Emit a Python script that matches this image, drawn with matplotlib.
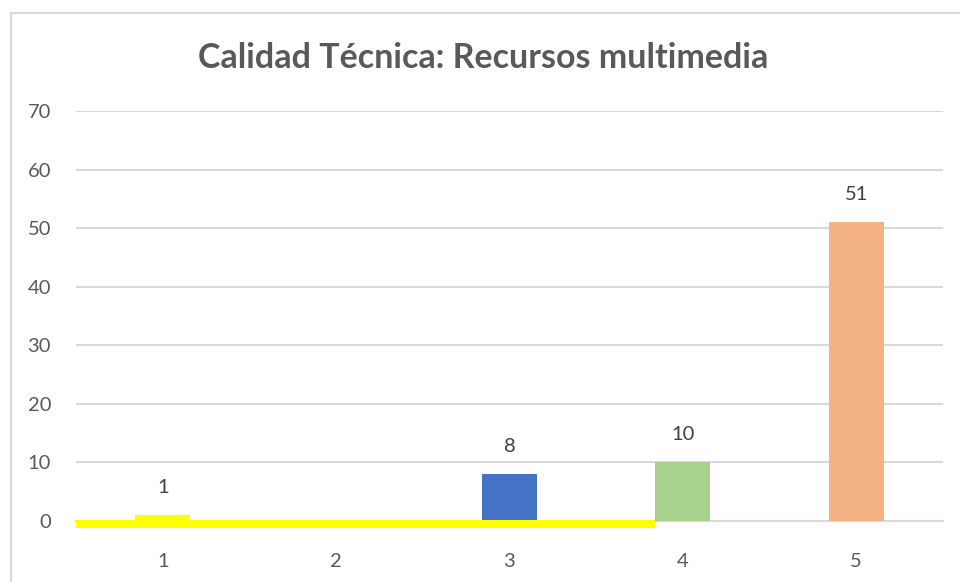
import matplotlib
matplotlib.use("Agg")
import matplotlib.pyplot as plt
from matplotlib.patches import Rectangle

plt.rcParams['font.family'] = ['Lato', 'DejaVu Sans']

categorias = ['1', '2', '3', '4', '5']
valores = [1, 0, 8, 10, 51]
colores = ['#FFFF00', '#FFFFFF', '#4472C4', '#A9D18E', '#F4B183']
etiquetas = ['1', '', '8', '10', '51']
yticks = [0, 10, 20, 30, 40, 50, 60, 70]

# franja amarilla de resaltado sobre el eje
resaltado_fin = 3.84

fig = plt.figure(figsize=(9.6, 5.82), dpi=100)
ax = fig.add_axes([0.0792, 0.1048, 0.903, 0.7046])

x = range(1, len(categorias) + 1)
bars = ax.bar(x, valores, width=0.317, color=colores, zorder=3)

ax.hlines(-0.55, 0.5, resaltado_fin, color='#FFFF00', lw=5.8,
          zorder=4, clip_on=False)

for b, lab in zip(bars, etiquetas):
    if lab:
        ax.annotate(lab, (b.get_x() + b.get_width() / 2, b.get_height()),
                    xytext=(0, 20), textcoords='offset points',
                    ha='center', va='center', fontsize=14.5, color='#404040')

ax.set_xlim(0.5, 5.5)
ax.set_ylim(0, 70)
ax.set_xticks(list(x))
ax.set_xticklabels(categorias)
ax.set_yticks(yticks)
ax.tick_params(axis='both', length=0, labelsize=14.5, labelcolor='#595959')
ax.tick_params(axis='x', pad=23)
ax.tick_params(axis='y', pad=18)
ax.grid(axis='y', color='#D9D9D9', lw=1.5, zorder=0)
for s in ['top', 'right', 'left']:
    ax.spines[s].set_visible(False)
ax.spines['bottom'].set_color('#D9D9D9')
ax.spines['bottom'].set_linewidth(1.5)

fig.text(0.503, 0.9, 'Calidad Técnica: Recursos multimedia',
         ha='center', va='center', fontsize=24.5, fontweight='bold',
         color='#595959')

fig.patches.append(Rectangle((11 / 960, -0.05), 1.0, 1.05 - 12.5 / 582,
                             transform=fig.transFigure, fill=False,
                             edgecolor='#D9D9D9', lw=1.5))

fig.savefig('out.png', dpi=100)
